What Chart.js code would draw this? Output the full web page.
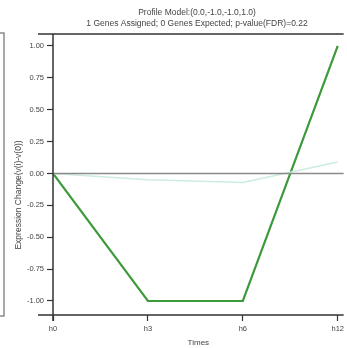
<!DOCTYPE html>
<html>
<head>
<meta charset="utf-8">
<script src="https://cdn.jsdelivr.net/npm/chart.js@4"></script>
<style>
  html, body { margin: 0; padding: 0; background: #fff; }
  #wrap { position: relative; width: 347px; height: 348px; }
</style>
</head>
<body>
<div id="wrap"><canvas id="chart" width="347" height="348"></canvas></div>
<script>
// data
const times = ['h0', 'h3', 'h6', 'h12'];
const modelProfile = [0.0, -1.0, -1.0, 1.0];
const geneProfile = [0.0, -0.05, -0.07, 0.09];
const yTickValues = [-1.0, -0.75, -0.5, -0.25, 0.0, 0.25, 0.5, 0.75, 1.0];
const titleLines = ['Profile Model:(0.0,-1.0,-1.0,1.0)', '1 Genes Assigned; 0 Genes Expected; p-value(FDR)=0.22'];
const yTitle = 'Expression Change(v(i)-v(0))';

const toPoints = vals => vals.map((v, i) => ({ x: i, y: v }));
const FONT = '"Liberation Sans", Arial, sans-serif';

// frame lines, titles and the stray box edge on the left
const framePlugin = {
    id: 'frame',
    afterDraw(chart) {
        const { ctx, chartArea } = chart;
        const { left, right, top, bottom } = chartArea;
        ctx.save();
        // zero line
        const y0 = chart.scales.y.getPixelForValue(0);
        ctx.strokeStyle = '#8a8a8a';
        ctx.lineWidth = 1.5;
        ctx.beginPath();
        ctx.moveTo(left, y0);
        ctx.lineTo(right, y0);
        ctx.stroke();

        ctx.strokeStyle = '#333';
        ctx.lineWidth = 1.5;
        ctx.beginPath();
        ctx.moveTo(38, top); ctx.lineTo(right, top);
        ctx.moveTo(38, bottom); ctx.lineTo(right, bottom);
        ctx.moveTo(left, top); ctx.lineTo(left, bottom + 6);
        ctx.stroke();

        // edge of the neighbouring panel
        ctx.strokeStyle = '#8c8c8c';
        ctx.lineWidth = 1.5;
        ctx.beginPath();
        ctx.moveTo(0, 33); ctx.lineTo(4, 33); ctx.lineTo(4, 316); ctx.lineTo(0, 316);
        ctx.stroke();

        // title over the plot area
        ctx.fillStyle = '#444';
        ctx.font = '8.5px ' + FONT;
        ctx.textAlign = 'center';
        ctx.textBaseline = 'middle';
        const cx = (left + 341) / 2;
        ctx.fillText(titleLines[0], cx, 13);
        ctx.fillText(titleLines[1], cx, 24);

        // y axis title, sits a little below the middle in the original
        ctx.font = '8.5px ' + FONT;
        ctx.translate(19, 195);
        ctx.rotate(-Math.PI / 2);
        ctx.fillText(yTitle, 0, 0);
        ctx.restore();
    }
};

new Chart(document.getElementById('chart'), {
    type: 'line',
    data: {
        datasets: [
            {
                data: toPoints(geneProfile),
                borderColor: '#cdece4',
                borderWidth: 1.5,
                pointRadius: 0,
                tension: 0,
            },
            {
                data: toPoints(modelProfile),
                borderColor: '#3c9a3c',
                borderWidth: 2.2,
                pointRadius: 0,
                tension: 0,
            },
        ],
    },
    options: {
        responsive: false,
        animation: false,
        layout: { padding: { top: 34, right: 0, left: 0, bottom: 0 } },
        plugins: {
            legend: { display: false },
            tooltip: { enabled: false },
        },
        scales: {
            x: {
                type: 'linear',
                min: 0,
                max: 3.0625,
                afterBuildTicks: axis => { axis.ticks = times.map((t, i) => ({ value: i })); },
                afterFit: axis => { axis.height = 33; },
                ticks: {
                    callback: v => times[v],
                    color: '#444',
                    font: { size: 7.5, family: FONT },
                    padding: 3,
                    maxRotation: 0,
                },
                grid: { drawOnChartArea: false, tickLength: 6, tickColor: '#333', tickWidth: 1.2 },
                border: { display: false },
                title: {
                    display: true,
                    text: 'Times',
                    color: '#444',
                    font: { size: 8, family: FONT },
                    padding: { top: 1, bottom: 0 },
                },
            },
            y: {
                min: -1.11,
                max: 1.094,
                afterBuildTicks: axis => { axis.ticks = yTickValues.map(v => ({ value: v })); },
                afterFit: axis => { axis.width = 53; },
                ticks: {
                    callback: v => v.toFixed(2),
                    color: '#444',
                    font: { size: 7.5, family: FONT },
                    padding: 3,
                },
                grid: { drawOnChartArea: false, tickLength: 6, tickColor: '#333', tickWidth: 1.2 },
                border: { display: false },
            },
        },
    },
    plugins: [framePlugin],
});
</script>
</body>
</html>
